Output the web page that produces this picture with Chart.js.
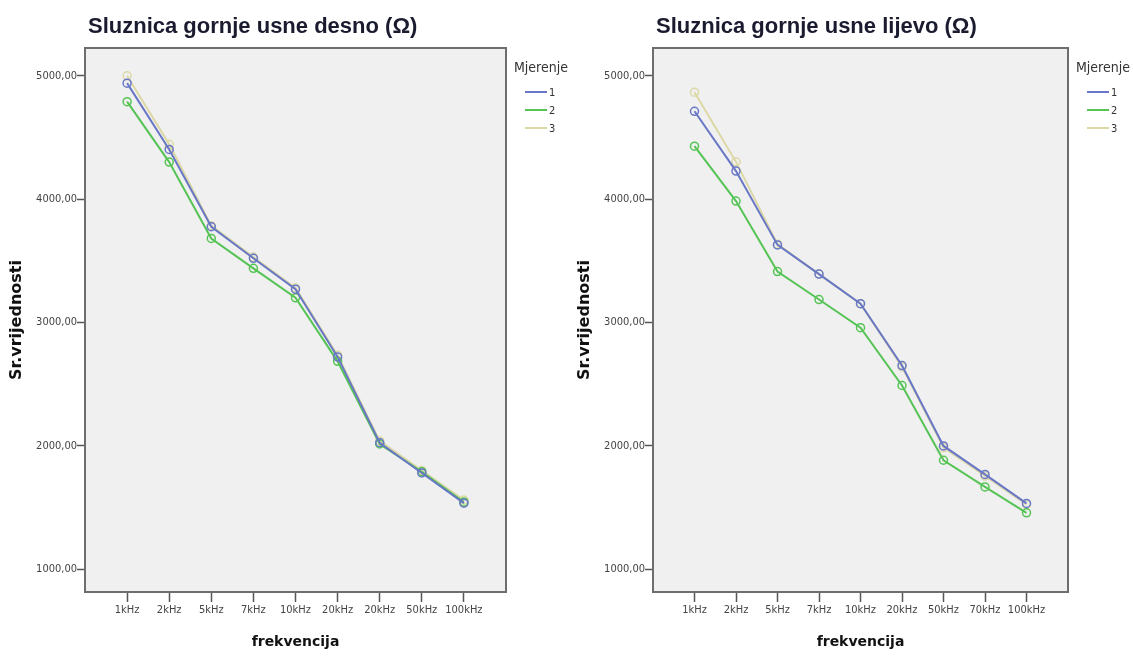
<!DOCTYPE html>
<html>
<head>
<meta charset="utf-8">
<script src="https://cdn.jsdelivr.net/npm/chart.js@4"></script>
<style>
    html, body { margin: 0; padding: 0; background: #fff; }
    body { width: 1133px; height: 657px; position: relative; overflow: hidden; }
    .panel { position: absolute; top: 0; height: 657px; }
    .title {
        position: absolute; top: 13px; line-height: 22px;
        font: bold 22px 'Liberation Sans', Arial, sans-serif; color: #1b1b30; white-space: nowrap;
    }
    .legend { position: absolute; top: 58px; font-family: 'DejaVu Sans Condensed', 'DejaVu Sans', sans-serif; color: #333; }
    .legend-title { font-size: 14px; line-height: 18px; }
    .legend-items { margin-top: 7px; }
    .legend-item { display: flex; align-items: center; height: 18px; padding-left: 11px; font-size: 11px; }
    .legend-line { width: 22px; height: 2px; margin-right: 2px; }
</style>
</head>
<body>
<div class="panel" style="left:0;width:566px"><canvas id="chartDesno"></canvas></div>
<div class="panel" style="left:566px;width:567px"><canvas id="chartLijevo"></canvas></div>
<div class="title" style="left:88px">Sluznica gornje usne desno (Ω)</div>
<div class="title" style="left:656px">Sluznica gornje usne lijevo (Ω)</div>
<div class="legend" id="legendDesno" style="left:514px"></div>
<div class="legend" id="legendLijevo" style="left:1076px"></div>

<script>
// kategorije (lijevi graf ima "20kHz" dvaput, kao na originalu)
const categoriesDesno = ['1kHz', '2kHz', '5kHz', '7kHz', '10kHz', '20kHz', '20kHz', '50kHz', '100kHz'];
const categoriesLijevo = ['1kHz', '2kHz', '5kHz', '7kHz', '10kHz', '20kHz', '50kHz', '70kHz', '100kHz'];

const seriesNames = ['1', '2', '3'];
const seriesColors = ['#6877c6', '#55c455', '#dcd8a6'];

const desno1 = [4940, 4403, 3776, 3520, 3270, 2721, 2025, 1780, 1535];
const desno2 = [4790, 4300, 3681, 3439, 3200, 2685, 2015, 1790, 1545];
const desno3 = [5000, 4444, 3785, 3530, 3280, 2735, 2040, 1800, 1560];

const lijevo1 = [4712, 4227, 3629, 3392, 3152, 2651, 1999, 1768, 1533];
const lijevo2 = [4429, 3984, 3413, 3186, 2958, 2489, 1883, 1667, 1457];
const lijevo3 = [4867, 4302, 3635, 3392, 3152, 2640, 1985, 1755, 1525];

const yTicks = [1000, 2000, 3000, 4000, 5000];

const tickFont = { family: "'DejaVu Sans Condensed', 'DejaVu Sans', sans-serif", size: 11 };

// siva podloga i okvir oko područja grafa
const plotBox = {
    id: 'plotBox',
    beforeDraw(chart) {
        const { ctx, chartArea: a } = chart;
        ctx.save();
        ctx.fillStyle = '#f0f0f0';
        ctx.fillRect(a.left, a.top, a.width, a.height);
        ctx.restore();
    },
    beforeDatasetsDraw(chart) {
        const { ctx, chartArea: a } = chart;
        ctx.save();
        ctx.strokeStyle = '#6e6e6e';
        ctx.lineWidth = 2;
        ctx.strokeRect(a.left, a.top, a.width, a.height);
        ctx.restore();
    }
};

function crearDatasets(series) {
    return series.map(function (values, i) {
        return {
            label: seriesNames[i],
            data: values.map((v, k) => ({ x: k, y: v })),
            borderColor: seriesColors[i],
            backgroundColor: 'rgba(0,0,0,0)',
            borderWidth: 2,
            tension: 0,
            pointRadius: 4,
            pointBorderWidth: 1.5,
            pointBorderColor: seriesColors[i],
            pointBackgroundColor: 'rgba(0,0,0,0)'
        };
    });
}

function crearGrafica(canvasId, categories, series, yAxisWidth, yTitlePad, rightPad) {
    const ctx = document.getElementById(canvasId);
    return new Chart(ctx, {
        type: 'line',
        data: { datasets: crearDatasets(series) },
        plugins: [plotBox],
        options: {
            responsive: true,
            maintainAspectRatio: false,
            animation: false,
            layout: { padding: { top: 48, right: rightPad, bottom: 0, left: 0 } },
            plugins: {
                legend: { display: false },
                tooltip: { enabled: false }
            },
            scales: {
                x: {
                    type: 'linear',
                    min: -1,
                    max: categories.length,
                    afterBuildTicks: function (scale) {
                        scale.ticks = categories.map((c, i) => ({ value: i }));
                    },
                    afterFit: function (scale) { scale.height = 65; },
                    border: { display: false },
                    grid: { drawOnChartArea: false, drawTicks: true, tickLength: 10, tickColor: '#555', tickWidth: 1.5 },
                    ticks: {
                        autoSkip: false,
                        maxRotation: 0,
                        padding: 2,
                        color: '#444',
                        font: tickFont,
                        callback: function (value) { return categories[value]; }
                    },
                    title: {
                        display: true,
                        text: 'frekvencija',
                        color: '#111',
                        font: { family: "'DejaVu Sans', sans-serif", size: 14, weight: 'bold' },
                        padding: { top: 0, bottom: 6 }
                    }
                },
                y: {
                    min: 815,
                    max: 5225,
                    afterBuildTicks: function (scale) {
                        scale.ticks = yTicks.map(v => ({ value: v }));
                    },
                    afterFit: function (scale) { scale.width = yAxisWidth; },
                    border: { display: false },
                    grid: { drawOnChartArea: false, drawTicks: true, tickLength: 8, tickColor: '#555', tickWidth: 1.5 },
                    ticks: {
                        padding: 0,
                        color: '#444',
                        font: tickFont,
                        callback: function (value) { return value.toFixed(2).replace('.', ','); }
                    },
                    title: {
                        display: true,
                        text: 'Sr.vrijednosti',
                        color: '#111',
                        font: { family: "'DejaVu Sans', sans-serif", size: 16, weight: 'bold' },
                        padding: { top: yTitlePad, bottom: 0 }
                    }
                }
            }
        }
    });
}

function crearLegenda(id) {
    const el = document.getElementById(id);
    let html = '<div class="legend-title">Mjerenje</div><div class="legend-items">';
    seriesNames.forEach(function (name, i) {
        html += '<div class="legend-item"><span class="legend-line" style="background:' + seriesColors[i] + '"></span>' + name + '</div>';
    });
    el.innerHTML = html + '</div>';
}

crearGrafica('chartDesno', categoriesDesno, [desno1, desno2, desno3], 85, 7, 60);
crearGrafica('chartLijevo', categoriesLijevo, [lijevo1, lijevo2, lijevo3], 87, 9, 65);
crearLegenda('legendDesno');
crearLegenda('legendLijevo');
</script>
</body>
</html>
